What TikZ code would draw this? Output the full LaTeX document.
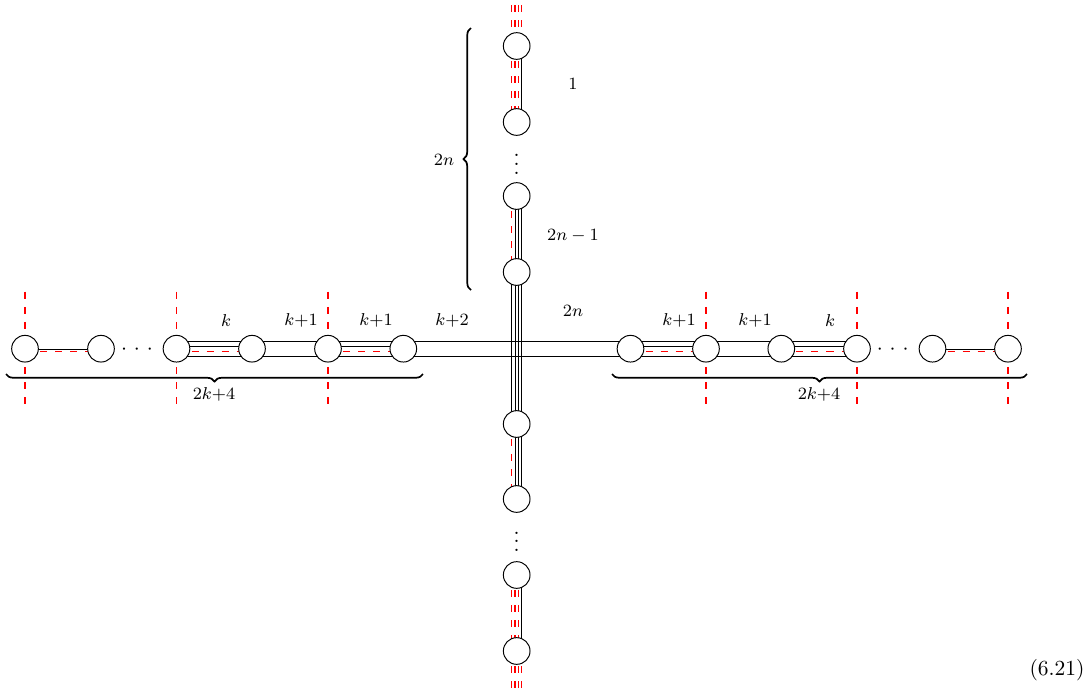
\documentclass[tikz,border=0pt]{standalone}
\usetikzlibrary{calc,decorations.pathreplacing}
\begin{document}
\begin{tikzpicture}[x=0.4651pt,y=-0.4651pt,
  vert/.style={circle,draw,fill=white,minimum size=12.4pt,inner sep=0pt,line width=0.45pt},
  blk/.style={draw=black,line width=0.42pt},
  rdash/.style={draw=red,line width=0.5pt,dash pattern=on 3.3pt off 3.7pt},
  lab/.style={font=\fontsize{8.5}{10}\selectfont,inner sep=0pt},
  brc/.style={decorate,line width=0.8pt}]
\useasboundingbox (0,0) rectangle (1089,697);

% vertex positions
\coordinate (T1) at (516.7,46);
\coordinate (T2) at (516.7,122);
\coordinate (T3) at (516.7,196);
\coordinate (T4) at (516.7,272);
\coordinate (B4) at (516.7,424);
\coordinate (B3) at (516.7,499);
\coordinate (B2) at (516.7,575);
\coordinate (B1) at (516.7,651);
\coordinate (L1) at (25,348.7);
\coordinate (L2) at (101,348.7);
\coordinate (L3) at (176.5,348.7);
\coordinate (L4) at (252,348.7);
\coordinate (L5) at (328,348.7);
\coordinate (L6) at (403.3,348.7);
\coordinate (R6) at (630.5,348.7);
\coordinate (R5) at (706,348.7);
\coordinate (R4) at (781.3,348.7);
\coordinate (R3) at (857,348.7);
\coordinate (R2) at (932.5,348.7);
\coordinate (R1) at (1008,348.7);
\coordinate (Ttop) at (516.7,5);
\coordinate (Bbot) at (516.7,690);

% ---- vertical chain ----
% top stub (4 red)
\draw[rdash] ($(Ttop)+(-5,0)$) -- ($(T1)+(-5,0)$);
\draw[rdash] ($(Ttop)+(-1.67,0)$) -- ($(T1)+(-1.67,0)$);
\draw[rdash] ($(Ttop)+(1.67,0)$) -- ($(T1)+(1.67,0)$);
\draw[rdash] ($(Ttop)+(5,0)$) -- ($(T1)+(5,0)$);
% T1-T2: 3 red, 1 black
\draw[rdash] ($(T1)+(-5,0)$) -- ($(T2)+(-5,0)$);
\draw[rdash] ($(T1)+(-1.67,0)$) -- ($(T2)+(-1.67,0)$);
\draw[rdash] ($(T1)+(1.67,0)$) -- ($(T2)+(1.67,0)$);
\draw[blk] ($(T1)+(5,0)$) -- ($(T2)+(5,0)$);
% T3-T4: 1 red, 3 black
\draw[rdash] ($(T3)+(-5,0)$) -- ($(T4)+(-5,0)$);
\draw[blk] ($(T3)+(-1.67,0)$) -- ($(T4)+(-1.67,0)$);
\draw[blk] ($(T3)+(1.67,0)$) -- ($(T4)+(1.67,0)$);
\draw[blk] ($(T3)+(5,0)$) -- ($(T4)+(5,0)$);
% T4-B4: 4 black
\draw[blk] ($(T4)+(-5,0)$) -- ($(B4)+(-5,0)$);
\draw[blk] ($(T4)+(-1.67,0)$) -- ($(B4)+(-1.67,0)$);
\draw[blk] ($(T4)+(1.67,0)$) -- ($(B4)+(1.67,0)$);
\draw[blk] ($(T4)+(5,0)$) -- ($(B4)+(5,0)$);
% B4-B3: 1 red, 3 black
\draw[rdash] ($(B4)+(-5,0)$) -- ($(B3)+(-5,0)$);
\draw[blk] ($(B4)+(-1.67,0)$) -- ($(B3)+(-1.67,0)$);
\draw[blk] ($(B4)+(1.67,0)$) -- ($(B3)+(1.67,0)$);
\draw[blk] ($(B4)+(5,0)$) -- ($(B3)+(5,0)$);
% B2-B1: 3 red, 1 black
\draw[rdash] ($(B2)+(-5,0)$) -- ($(B1)+(-5,0)$);
\draw[rdash] ($(B2)+(-1.67,0)$) -- ($(B1)+(-1.67,0)$);
\draw[rdash] ($(B2)+(1.67,0)$) -- ($(B1)+(1.67,0)$);
\draw[blk] ($(B2)+(5,0)$) -- ($(B1)+(5,0)$);
% bottom stub (4 red)
\draw[rdash] ($(B1)+(-5,0)$) -- ($(Bbot)+(-5,0)$);
\draw[rdash] ($(B1)+(-1.67,0)$) -- ($(Bbot)+(-1.67,0)$);
\draw[rdash] ($(B1)+(1.67,0)$) -- ($(Bbot)+(1.67,0)$);
\draw[rdash] ($(B1)+(5,0)$) -- ($(Bbot)+(5,0)$);

% ---- horizontal chain ----
% single edges
\draw[blk] ($(L1)+(0,0.5)$) -- ($(L2)+(0,0.5)$);
\draw[rdash] ($(L1)+(0,3)$) -- ($(L2)+(0,3)$);
\draw[blk] ($(R2)+(0,0.5)$) -- ($(R1)+(0,0.5)$);
\draw[rdash] ($(R2)+(0,3)$) -- ($(R1)+(0,3)$);
% four-pattern edges
\draw[blk] ($(L3)+(0,-7.5)$) -- ($(L4)+(0,-7.5)$);
\draw[blk] ($(L3)+(0,-2)$) -- ($(L4)+(0,-2)$);
\draw[rdash] ($(L3)+(0,3.2)$) -- ($(L4)+(0,3.2)$);
\draw[blk] ($(L3)+(0,7.5)$) -- ($(L4)+(0,7.5)$);
\draw[blk] ($(L5)+(0,-7.5)$) -- ($(L6)+(0,-7.5)$);
\draw[blk] ($(L5)+(0,-2)$) -- ($(L6)+(0,-2)$);
\draw[rdash] ($(L5)+(0,3.2)$) -- ($(L6)+(0,3.2)$);
\draw[blk] ($(L5)+(0,7.5)$) -- ($(L6)+(0,7.5)$);
\draw[blk] ($(R6)+(0,-7.5)$) -- ($(R5)+(0,-7.5)$);
\draw[blk] ($(R6)+(0,-2)$) -- ($(R5)+(0,-2)$);
\draw[rdash] ($(R6)+(0,3.2)$) -- ($(R5)+(0,3.2)$);
\draw[blk] ($(R6)+(0,7.5)$) -- ($(R5)+(0,7.5)$);
\draw[blk] ($(R4)+(0,-7.5)$) -- ($(R3)+(0,-7.5)$);
\draw[blk] ($(R4)+(0,-2)$) -- ($(R3)+(0,-2)$);
\draw[rdash] ($(R4)+(0,3.2)$) -- ($(R3)+(0,3.2)$);
\draw[blk] ($(R4)+(0,7.5)$) -- ($(R3)+(0,7.5)$);
% double edges
\draw[blk] ($(L4)+(0,-7.2)$) -- ($(L5)+(0,-7.2)$);
\draw[blk] ($(L4)+(0,7.3)$) -- ($(L5)+(0,7.3)$);
\draw[blk] ($(R5)+(0,-7.2)$) -- ($(R4)+(0,-7.2)$);
\draw[blk] ($(R5)+(0,7.3)$) -- ($(R4)+(0,7.3)$);
\draw[blk] ($(L6)+(0,-7.2)$) -- ($(R6)+(0,-7.2)$);
\draw[blk] ($(L6)+(0,7.3)$) -- ($(R6)+(0,7.3)$);
% red vertical cuts
\draw[rdash] ($(L1)+(0,-57)$) -- ($(L1)+(0,62)$);
\draw[rdash] ($(L3)+(0,-57)$) -- ($(L3)+(0,62)$);
\draw[rdash] ($(L5)+(0,-57)$) -- ($(L5)+(0,62)$);
\draw[rdash] ($(R5)+(0,-57)$) -- ($(R5)+(0,62)$);
\draw[rdash] ($(R3)+(0,-57)$) -- ($(R3)+(0,62)$);
\draw[rdash] ($(R1)+(0,-57)$) -- ($(R1)+(0,62)$);

% vertices
\foreach \n in {T1,T2,T3,T4,B4,B3,B2,B1,L1,L2,L3,L4,L5,L6,R6,R5,R4,R3,R2,R1}
  \node[vert] (v\n) at (\n) {};

% dots
\node[inner sep=0pt] (ldots) at (137,349.5) {$\cdotp\hspace{1.55pt}\cdotp\hspace{1.55pt}\cdotp$};
\node[inner sep=0pt] (rdots) at (892.7,349.5) {$\cdotp\hspace{1.55pt}\cdotp\hspace{1.55pt}\cdotp$};
\node[inner sep=0pt] (tdots) at (516.7,158) {$\vdots$};
\node[inner sep=0pt] (bdots) at (516.7,535) {$\vdots$};

% edge labels
\node[lab] (l1) at (573,84) {$1$};
\node[lab] (l2) at (573,236) {$2n-1$};
\node[lab] (l3) at (573,311) {$2n$};
\node[lab] (lk1) at (226,321) {$k$};
\node[lab] (lk2) at (301,320) {$k{+}1$};
\node[lab] (lk3) at (376,320) {$k{+}1$};
\node[lab] (lk4) at (452,320) {$k{+}2$};
\node[lab] (rk1) at (679,320) {$k{+}1$};
\node[lab] (rk2) at (755,320) {$k{+}1$};
\node[lab] (rk3) at (830,321) {$k$};

% braces
\draw[brc,decoration={brace,mirror,amplitude=3.5pt}] (6,374) -- (423,374);
\draw[brc,decoration={brace,mirror,amplitude=3.5pt}] (612,374) -- (1027,374);
\draw[brc,decoration={brace,amplitude=3.5pt}] (471,290) -- (471,28);
\node[lab] (bl) at (214,394) {$2k{+}4$};
\node[lab] (br) at (819,394) {$2k{+}4$};
\node[lab] (bv) at (444,160) {$2n$};

% equation number
\node[inner sep=0pt] (eq) at (1057,670) {(6.21)};
\end{tikzpicture}
\end{document}
